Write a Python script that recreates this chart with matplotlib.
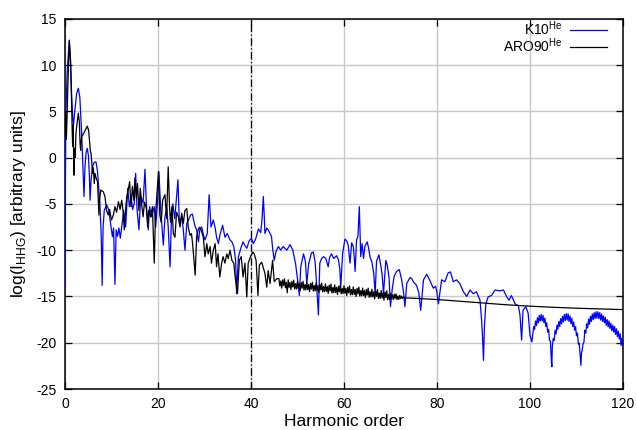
import matplotlib
matplotlib.use("Agg")
import matplotlib.pyplot as plt

plt.rcParams['font.family'] = ['Liberation Sans', 'DejaVu Sans']
plt.rcParams['mathtext.fontset'] = 'custom'
plt.rcParams['mathtext.rm'] = 'Liberation Sans'

# K10 (He) harmonic spectrum
k10_x = [0.0, 0.1, 0.2, 0.5, 0.93, 1.2, 1.45, 1.7, 1.85, 2.1, 2.5, 2.87, 3.2, 3.6, 3.9, 4.09, 4.3, 4.55, 4.8,
         5.05, 5.25, 5.4, 5.6, 5.9, 6.3, 6.67, 7.0, 7.5, 7.8, 8.0, 8.2, 8.45, 8.95, 9.4, 9.9, 10.2, 10.45, 10.75,
         11.0, 11.3, 11.6, 11.9, 12.3, 12.6, 13.05, 13.5, 13.85, 14.2, 14.55, 14.9, 15.2, 15.5, 15.9, 16.3, 16.8,
         17.2, 17.5, 17.9, 18.2, 18.6, 19.2, 19.5, 19.9, 20.2, 20.6, 21.15, 21.5, 21.9, 22.2, 22.6, 22.9, 23.2,
         23.6, 24.3, 24.6, 25.1, 25.45, 25.8, 26.2, 26.5, 27.0, 27.4, 27.9, 28.3, 28.7, 29.0, 29.4, 29.8, 30.1,
         30.6, 31.0, 31.4, 31.9, 32.3, 32.6, 33.0, 33.3, 33.9, 34.4, 34.9, 35.5, 35.9, 36.3, 36.7, 36.9, 37.3,
         37.8, 38.3, 38.7, 39.1, 39.6, 40.1, 40.5, 41.0, 41.6, 42.1, 42.4, 42.65, 42.9, 43.0, 43.4, 43.7, 44.1,
         44.4, 44.7, 45.0, 45.4, 45.9, 46.4, 46.9, 47.7, 48.4, 49.0, 49.6, 50.1, 50.4, 50.7, 51.3, 51.7, 52.0,
         52.4, 53.0, 53.4, 53.8, 54.1, 54.5, 54.8, 55.2, 55.6, 56.1, 56.6, 56.9, 57.3, 57.8, 58.4, 58.8, 59.1,
         59.3, 59.7, 60.2, 60.6, 60.9, 61.3, 61.65, 62.0, 62.2, 62.4, 62.7, 63.0, 63.3, 63.6, 63.9, 64.2, 64.5,
         65.0, 65.3, 65.6, 66.0, 66.4, 66.7, 67.0, 67.5, 67.9, 68.2, 68.5, 69.0, 69.3, 69.7, 70.0, 70.4, 70.8,
         71.3, 71.9, 72.4, 72.8, 73.1, 73.5, 74.2, 74.6, 74.9, 75.6, 76.1, 76.5, 77.1, 77.8, 78.4, 79.2, 79.7,
         80.0, 80.3, 81.0, 81.7, 82.4, 82.9, 83.5, 84.2, 84.9, 85.7, 86.4, 87.1, 87.8, 88.5, 89.25, 89.6, 89.8,
         90.0, 90.2, 90.5, 91.0, 91.7, 92.5, 93.5, 94.3, 95.0, 95.5, 96.0, 96.8, 97.5, 97.85, 98.2, 98.5, 99.1,
         99.6, 100.0, 100.4, 100.8, 101.0, 101.2, 101.4, 101.6, 101.8, 102.0, 102.2, 102.4, 102.6, 102.8,
         103.0, 103.2, 103.4, 103.6, 103.8, 104.0, 104.2, 104.4, 104.6, 104.7, 104.8, 105.0, 105.2, 105.4,
         105.6, 105.8, 106.0, 106.2, 106.4, 106.6, 106.8, 107.0, 107.2, 107.4, 107.6, 107.8, 108.0, 108.2,
         108.4, 108.6, 108.8, 109.0, 109.2, 109.4, 109.6, 109.8, 110.0, 110.2, 110.4, 110.6, 110.8, 110.95,
         111.1, 111.2, 111.4, 111.6, 111.8, 112.0, 112.2, 112.4, 112.6, 112.8, 113.0, 113.2, 113.4, 113.6,
         113.8, 114.0, 114.2, 114.4, 114.6, 114.8, 115.0, 115.2, 115.4, 115.6, 115.8, 116.0, 116.2, 116.4,
         116.6, 116.8, 117.0, 117.2, 117.4, 117.6, 117.8, 118.0, 118.2, 118.4, 118.6, 118.8, 119.0, 119.2,
         119.4, 119.6, 119.8, 120.0]
k10_y = [-14.0, -2.0, 5.1, 9.5, 12.7, 10.5, 6.5, 4.0, 3.6, 5.0, 6.9, 7.5, 6.5, 2.5, -1.5, -4.2, -1.0, 0.6, 1.0,
         0.2, -2.0, -4.6, -2.5, -1.0, -0.5, -0.45, -1.5, -4.9, -8.5, -13.8, -7.5, -5.7, -5.1, -5.6, -7.5, -8.55,
         -7.6, -13.7, -7.8, -8.5, -7.6, -8.7, -7.1, -5.7, -7.5, -3.3, -5.3, -4.2, -5.6, -4.9, -1.7, -5.6, -7.8,
         -4.2, -4.9, -1.26, -5.0, -7.8, -5.3, -6.4, -5.3, -7.5, -4.9, -1.5, -5.7, -9.45, -6.4, -5.5, -7.5, -11.8,
         -6.4, -5.0, -6.6, -2.4, -7.1, -6.4, -7.8, -10.0, -7.1, -6.8, -6.2, -6.1, -7.3, -7.8, -9.1, -7.8, -7.5,
         -8.4, -8.9, -8.2, -4.0, -7.5, -6.75, -7.6, -8.6, -9.3, -8.4, -7.3, -8.6, -8.2, -8.9, -9.1, -9.6, -11.1,
         -14.7, -10.7, -9.8, -9.1, -9.5, -9.8, -9.0, -8.7, -9.3, -8.8, -7.7, -8.1, -6.5, -4.2, -6.8, -8.2, -7.6,
         -7.8, -8.2, -8.5, -10.0, -11.1, -10.1, -9.6, -10.0, -9.6, -10.0, -9.4, -10.0, -11.5, -13.5, -14.9,
         -11.8, -10.4, -11.2, -13.6, -11.5, -10.3, -10.2, -11.3, -13.6, -17.0, -11.4, -10.9, -10.7, -10.9,
         -11.8, -10.8, -10.4, -10.9, -10.6, -11.0, -12.0, -14.0, -10.4, -8.8, -9.0, -9.45, -11.4, -9.2, -9.6,
         -10.7, -12.3, -8.9, -8.5, -5.3, -10.7, -9.3, -10.9, -9.6, -9.1, -9.8, -10.7, -11.3, -12.5, -14.7,
         -11.2, -10.5, -11.6, -12.6, -14.7, -11.1, -11.6, -13.0, -16.1, -14.1, -12.8, -12.3, -12.1, -13.2,
         -14.5, -16.1, -13.6, -12.95, -13.1, -13.4, -13.8, -14.6, -16.5, -13.2, -12.6, -13.2, -14.1, -13.9,
         -14.6, -15.8, -13.2, -13.4, -12.45, -12.35, -13.4, -13.2, -13.6, -14.5, -15.0, -14.3, -14.7, -14.5,
         -15.4, -17.6, -19.4, -21.9, -18.3, -15.8, -15.05, -14.9, -14.3, -14.4, -14.3, -15.05, -15.4, -14.9,
         -15.8, -16.0, -17.0, -19.7, -16.5, -16.1, -16.8, -19.2, -19.9, -18.25, -18.55, -17.65, -18.15, -17.3,
         -17.85, -17.05, -17.65, -16.95, -17.65, -17.05, -17.85, -17.35, -18.25, -17.85, -18.85, -18.55,
         -19.75, -19.85, -22.0, -22.6, -20.4, -19.55, -19.75, -18.65, -19.05, -18.1, -18.55, -17.7, -18.25,
         -17.4, -17.95, -17.15, -17.75, -16.95, -17.6, -16.85, -17.55, -16.9, -17.7, -17.1, -17.95, -17.35,
         -18.25, -17.75, -18.65, -18.25, -19.25, -18.95, -20.15, -20.05, -21.4, -22.45, -21.0, -20.9, -20.15,
         -19.95, -18.65, -18.95, -17.95, -18.4, -17.45, -18.0, -17.15, -17.7, -16.9, -17.5, -16.75, -17.4,
         -16.65, -17.35, -16.65, -17.4, -16.75, -17.55, -16.9, -17.7, -17.1, -17.85, -17.25, -18.1, -17.5,
         -18.3, -17.65, -18.45, -17.9, -18.7, -18.1, -18.85, -18.25, -19.1, -18.5, -19.35, -18.75, -19.6,
         -19.05, -20.3, -19.5, -20.4]

# ARO90 (He) harmonic spectrum
aro_x = [0.0, 0.15, 0.3, 0.45, 0.6, 0.93, 1.2, 1.43, 1.55, 1.65, 1.75, 1.85, 1.94, 2.05, 2.2, 2.35, 2.5, 2.87,
         3.1, 3.25, 3.37, 3.58, 3.9, 4.3, 4.8, 5.1, 5.35, 5.45, 5.6, 5.95, 6.1, 6.3, 6.45, 6.7, 7.0, 7.3, 7.45,
         7.7, 8.25, 8.6, 8.95, 9.3, 9.6, 10.0, 10.4, 10.75, 11.1, 11.5, 11.85, 12.2, 12.55, 12.75, 13.05, 13.3,
         13.6, 13.9, 14.2, 14.5, 14.8, 15.05, 15.35, 15.6, 15.9, 16.2, 16.5, 16.8, 17.1, 17.5, 17.8, 18.0, 18.4,
         18.8, 19.2, 19.45, 19.75, 20.1, 20.4, 20.7, 21.0, 21.5, 21.85, 22.2, 22.5, 22.7, 23.0, 23.3, 23.65,
         24.0, 24.4, 24.75, 25.1, 25.45, 25.8, 26.2, 26.5, 26.9, 27.2, 27.45, 27.75, 28.0, 28.3, 28.7, 29.0,
         29.4, 29.75, 30.1, 30.5, 30.8, 31.2, 31.5, 31.9, 32.3, 32.6, 32.9, 33.3, 33.7, 34.0, 34.4, 34.8, 35.1,
         35.5, 35.9, 36.3, 36.6, 37.1, 37.5, 37.9, 38.3, 38.7, 39.1, 39.4, 39.9, 40.4, 40.7, 41.1, 41.5, 41.8,
         42.3, 43.0, 43.4, 43.7, 44.1, 44.65, 45.0, 45.5,
         46.0, 46.2, 46.4, 46.6, 46.8, 47.0, 47.2, 47.4, 47.6, 47.8, 48.0, 48.2, 48.4, 48.6, 48.8, 49.0,
         49.2, 49.4, 49.6, 49.8, 50.0, 50.2, 50.4, 50.6, 50.8, 51.0, 51.2, 51.4, 51.6, 51.8, 52.0, 52.2,
         52.4, 52.6, 52.8, 53.0, 53.2, 53.4, 53.6, 53.8, 54.0, 54.2, 54.4, 54.6, 54.8, 55.0, 55.2, 55.4,
         55.6, 55.8, 56.0, 56.2, 56.4, 56.6, 56.8, 57.0, 57.2, 57.4, 57.6, 57.8, 58.0, 58.2, 58.4, 58.6,
         58.8, 59.0, 59.2, 59.4, 59.6, 59.8, 60.0, 60.2, 60.4, 60.6, 60.8, 61.0, 61.2, 61.4, 61.6, 61.8,
         62.0, 62.2, 62.4, 62.6, 62.8, 63.0, 63.2, 63.4, 63.6, 63.8, 64.0, 64.2, 64.4, 64.6, 64.8, 65.0,
         65.2, 65.4, 65.6, 65.8, 66.0, 66.2, 66.4, 66.6, 66.8, 67.0, 67.2, 67.4, 67.6, 67.8, 68.0, 68.2,
         68.4, 68.6, 68.8, 69.0, 69.2, 69.4, 69.6, 69.8, 70.0, 70.2, 70.4, 70.6, 70.8, 71.0, 71.2, 71.4,
         71.6, 71.8, 72.0, 72.2, 72.4, 72.6, 72.8, 73.0,
         76.0, 80.0, 85.0, 90.0, 95.0, 100.0, 105.0, 110.0, 115.0, 120.0]
aro_y = [2.5, 5.0, 2.0, 4.5, 7.5, 12.6, 10.2, 5.9, 3.0, 1.2, 3.5, 0.5, -1.9, 1.0, 0.0, 2.5, 3.3, 4.8,
         3.8, 1.5, 0.8, 2.25, 2.5, 2.9, 3.4, 2.9, 1.35, 0.75, 0.5, -1.7, -1.1, -2.8, -1.7, -2.2, -2.6, -6.2,
         -4.5, -3.5, -3.7, -4.2, -5.7, -6.2, -5.6, -6.75, -6.2, -5.3, -5.9, -4.76, -5.6, -4.6, -6.0, -7.8,
         -5.5, -4.2, -3.5, -2.6, -5.3, -3.1, -4.6, -2.2, -4.4, -2.8, -5.7, -3.3, -5.1, -6.4, -4.8, -5.5, -7.5,
         -5.7, -6.4, -5.3, -11.4, -6.4, -4.2, -1.5, -6.2, -7.0, -4.6, -4.0, -6.6, -1.0, -5.5, -7.0, -5.3,
         -8.2, -8.6, -5.9, -6.4, -7.5, -6.0, -7.1, -5.7, -5.5, -7.5, -8.4, -8.2, -9.3, -11.1, -12.7, -8.6,
         -7.7, -7.5, -8.0, -8.6, -10.7, -9.3, -10.4, -9.6, -11.4, -10.0, -9.3, -11.8, -10.4, -12.9, -11.4,
         -10.7, -11.4, -10.4, -10.9, -10.0, -11.1, -11.4, -12.9, -14.7, -11.1, -10.7, -12.9, -11.4, -15.05,
         -11.4, -10.7, -10.2, -10.4, -11.1, -14.9, -11.6, -11.3, -12.5, -14.0, -12.2, -13.6, -11.1, -13.4,
         -13.1,
         -13.05, -13.87, -13.33, -14.10, -13.21, -13.83, -13.09, -14.06, -13.47, -14.60, -13.20, -14.02,
         -13.48, -14.25, -13.36, -13.98, -13.24, -14.21, -13.62, -14.19, -13.35, -14.16, -13.62, -14.38,
         -13.49, -14.10, -13.36, -14.32, -13.73, -14.29, -13.45, -14.26, -13.72, -14.48, -13.59, -14.20,
         -13.46, -14.42, -13.83, -14.39, -13.55, -14.36, -13.82, -14.58, -13.69, -14.30, -13.56, -14.52,
         -13.93, -14.49, -13.65, -14.46, -13.92, -14.68, -13.79, -14.40, -13.66, -14.62, -14.03, -14.59,
         -13.75, -14.56, -14.02, -14.78, -13.89, -14.50, -13.76, -14.72, -14.13, -14.69, -13.85, -14.66,
         -14.12, -14.89, -14.00, -14.61, -13.87, -14.83, -14.25, -14.81, -13.97, -14.78, -14.24, -15.01,
         -14.12, -14.73, -13.99, -14.95, -14.37, -14.93, -14.09, -14.90, -14.36, -15.13, -14.24, -14.85,
         -14.11, -15.08, -14.49, -15.06, -14.22, -15.03, -14.50, -15.26, -14.38, -14.99, -14.25, -15.22,
         -14.63, -15.20, -14.36, -15.17, -14.64, -15.40, -14.52, -15.13, -14.39, -15.36, -14.77, -15.34,
         -14.65, -15.21, -14.83, -15.34, -14.75, -15.22, -14.73, -15.34, -14.96, -15.32, -14.88, -15.24,
         -14.96, -15.22, -15.05, -15.15,
         -15.22, -15.33, -15.52, -15.72, -15.9, -16.05, -16.17, -16.27, -16.35, -16.42]

x_ticks = [0, 20, 40, 60, 80, 100, 120]
y_ticks = [-25, -20, -15, -10, -5, 0, 5, 10, 15]
cutoff_order = 40

fig = plt.figure(figsize=(6.37, 4.30), dpi=100)
ax = fig.add_axes([0.102, 0.0953, 0.876, 0.861])

ax.plot(k10_x, k10_y, color='#0000ff', lw=0.9, label=r'K10$^{\mathrm{He}}$', zorder=3)
ax.plot(aro_x, aro_y, color='black', lw=0.9, label=r'ARO90$^{\mathrm{He}}$', zorder=4)
ax.axvline(cutoff_order, color='black', lw=0.9, ls=(0, (6, 2, 1, 2)), zorder=2)

ax.set_xlim(0, 120)
ax.set_ylim(-25, 15)
ax.set_xticks(x_ticks)
ax.set_yticks(y_ticks)
ax.set_xticklabels([str(v) for v in x_ticks])
ax.set_yticklabels([str(v) for v in y_ticks])
ax.tick_params(direction='in', top=True, right=True, length=5, width=0.9, labelsize=10, pad=6)
ax.grid(True, color='#c8c8c8', lw=1.0, zorder=0)
ax.set_axisbelow(True)
for s in ax.spines.values():
    s.set_linewidth(1.1)

ax.set_xlabel('Harmonic order', fontsize=12.5, labelpad=2)
ax.set_ylabel(r'log(I$_{\mathrm{HHG}}$) [arbitrary units]', fontsize=12.5, labelpad=6)

leg = ax.legend(loc='upper right', frameon=False, markerfirst=False, fontsize=10,
                handlelength=2.65, handletextpad=0.55, labelspacing=-0.1,
                borderpad=0.0, borderaxespad=0.0, bbox_to_anchor=(0.971, 0.998))
for t in leg.get_texts():
    t.set_ha('right')

fig.savefig('out.png', dpi=100)
